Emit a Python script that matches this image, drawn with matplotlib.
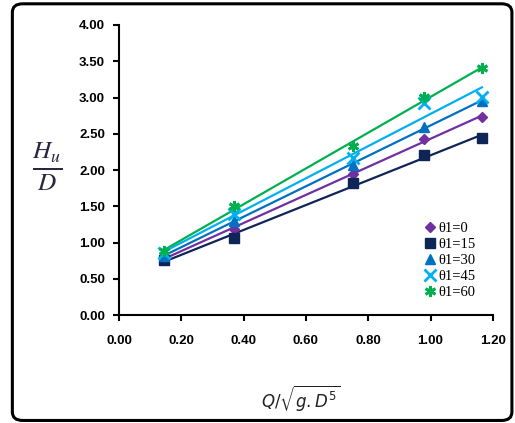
import numpy as np
import matplotlib
matplotlib.use("Agg")
import matplotlib.pyplot as plt
from matplotlib.patches import FancyBboxPatch

plt.rcParams["mathtext.fontset"] = "stix"

# data
x = [0.145, 0.37, 0.75, 0.98, 1.165]
labels = ["θ1=0", "θ1=15", "θ1=30", "θ1=45", "θ1=60"]
y0 = [0.79, 1.19, 1.94, 2.43, 2.73]
y15 = [0.76, 1.06, 1.82, 2.21, 2.44]
y30 = [0.82, 1.30, 2.07, 2.60, 2.95]
y45 = [0.85, 1.39, 2.17, 2.92, 3.01]
y60 = [0.88, 1.50, 2.33, 3.01, 3.40]

series = [y0, y15, y30, y45, y60]
colors = ["#7030A0", "#0F2557", "#0070C0", "#00B0F0", "#00B050"]
markers = ["D", "s", "^", "x", (6, 2, 0)]
msizes = [5, 7, 7, 8, 8]

fig = plt.figure(figsize=(5.15, 4.23), dpi=100)
ax = fig.add_axes([0.231, 0.255, 0.726, 0.686])

xa = np.array(x)
for ys, c, m, ms, lab in zip(series, colors, markers, msizes, labels):
    k, b = np.polyfit(xa, ys, 1)  # linear trend line like Excel
    ax.plot(xa, k * xa + b, color=c, lw=1.6, zorder=2)
    ax.plot(xa, ys, linestyle="none", marker=m, color=c, markersize=ms,
            markeredgewidth=2 if m in ("x", (6, 2, 0)) else 1, label=lab, zorder=3)

ax.set_xlim(0, 1.2)
ax.set_ylim(0, 4)
ax.set_xticks(np.arange(0, 1.21, 0.2))
ax.set_yticks(np.arange(0, 4.01, 0.5))
ax.xaxis.set_major_formatter(matplotlib.ticker.FormatStrFormatter("%.2f"))
ax.yaxis.set_major_formatter(matplotlib.ticker.FormatStrFormatter("%.2f"))
for lbl in ax.get_xticklabels() + ax.get_yticklabels():
    lbl.set_fontfamily("Liberation Sans")
    lbl.set_fontweight("bold")
    lbl.set_fontsize(9.5)
ax.spines["top"].set_visible(False)
ax.spines["right"].set_visible(False)
ax.spines["left"].set_linewidth(1.5)
ax.spines["bottom"].set_linewidth(1.5)
ax.tick_params(axis="y", direction="out", length=4, width=1.5, pad=6)
ax.tick_params(axis="x", direction="out", length=4, width=1.5, pad=10)

leg = ax.legend(loc="lower right", bbox_to_anchor=(0.98, 0.02), frameon=False,
                prop={"family": "Liberation Serif", "size": 10.5},
                handletextpad=0.0, labelspacing=0.2, handlelength=1.1,
                borderaxespad=0.3)

fig.text(0.092, 0.605, r"$\frac{H_u}{D}$", fontsize=26, color="#2B2740",
         ha="center", va="center")
fig.text(0.583, 0.056, r"$Q/\sqrt{g.D^5}$", fontsize=12, color="#222222",
         ha="center", va="center", math_fontfamily="dejavusans")

frame = FancyBboxPatch((0.024, 0.006), 0.97, 0.985, transform=fig.transFigure,
                       boxstyle="round,pad=0,rounding_size=0.02",
                       fill=False, edgecolor="black", linewidth=2.2)
fig.patches.append(frame)

fig.savefig("out.png", dpi=100)
